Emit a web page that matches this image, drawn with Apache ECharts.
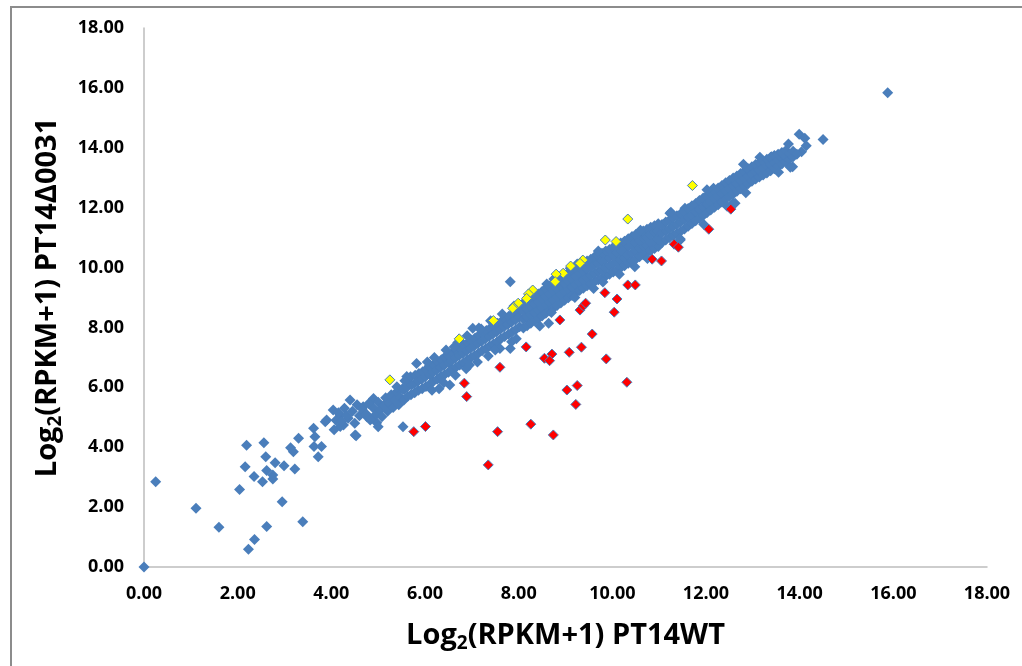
<!DOCTYPE html>
<html>
<head>
<meta charset="utf-8">
<script src="https://cdn.jsdelivr.net/npm/echarts@6/dist/echarts.min.js"></script>
<style>
  html, body { margin: 0; padding: 0; background: #ffffff; }
  #chart { width: 1022px; height: 666px; }
</style>
</head>
<body>
<div id="chart"></div>
<script>
// Axis ticks (shared by both axes)
const tickMin = 0;
const tickMax = 18;
const tickStep = 2;

// Genes with unchanged expression: [log2(RPKM+1) WT, log2(RPKM+1) Δ0031]
const unchangedGenes = [
  [0.00,0.00],[0.25,2.85],[1.11,1.96],[1.60,1.33],[2.04,2.59],[2.19,4.07],[2.16,3.35],
  [2.23,0.59],[2.36,0.92],[2.35,3.02],[2.56,4.15],[2.60,3.68],[2.53,2.85],[2.62,1.35],
  [2.62,3.22],[2.75,3.07],[2.75,2.94],[2.80,3.48],[2.95,2.18],[2.99,3.38],[3.13,3.98],
  [3.19,3.85],[3.22,3.27],[3.30,4.30],[3.39,1.51],[3.62,4.63],[3.65,4.35],[3.63,4.02],
  [3.72,3.68],[3.79,4.02],[3.87,4.85],[3.90,4.91],[4.04,5.24],[4.06,4.58],[4.19,5.08],
  [4.19,4.69],[4.40,5.58],[4.36,4.97],[4.53,4.38],[4.51,4.41],[4.26,4.74],[4.68,5.35],
  [4.76,5.02],[4.90,5.63],[4.97,4.82],[4.83,4.91],[5.00,4.68],[5.53,4.68],
  [4.10,4.90],[4.15,5.15],[4.22,4.85],[4.28,5.30],[4.33,5.05],[4.45,5.20],[4.50,4.80],
  [4.55,5.42],[4.60,5.05],[4.66,5.28],[4.74,5.12],[4.80,5.46],[4.85,4.95],[4.90,5.30],
  [4.96,5.10],[5.00,5.50],[5.04,5.25],[5.08,5.02],[5.12,5.40],[5.16,5.65],[5.20,5.20],
  [5.24,5.48],[5.28,5.75],[5.32,5.33],[5.36,5.58],[5.40,5.85],[5.40,6.02],[5.44,5.42],
  [5.48,5.66],[5.52,5.95],[5.61,6.36],[5.82,6.80],[6.53,6.08],[7.02,7.97],[7.82,9.53],
  [7.82,7.30],[8.64,8.14],[10.48,10.03],[12.58,12.16],[12.62,12.15],[11.45,10.92],
  [12.16,12.65],[11.23,11.81],[11.55,11.98],[13.40,13.70],[13.76,14.13],[13.99,14.45],
  [14.11,14.32],[14.14,14.07],[14.04,13.87],[13.85,13.37],[13.83,13.79],[14.50,14.28],
  [15.88,15.84],
  [5.55,5.58],[5.55,5.93],[5.57,6.22],[5.63,5.70],[5.62,6.01],[5.64,6.28],
  [5.70,5.75],[5.71,6.08],[5.69,6.35],[5.78,5.82],[5.77,6.12],[5.79,6.40],
  [5.86,5.90],[5.85,6.20],[5.87,6.46],[5.94,5.95],[5.93,6.27],[5.95,6.52],
  [6.02,6.03],[6.01,6.35],[6.03,6.60],[6.10,6.10],[6.11,6.42],[6.09,6.70],
  [6.18,6.20],[6.17,6.50],[6.19,6.76],[6.26,6.27],[6.25,6.58],[6.27,6.85],
  [6.34,6.36],[6.33,6.66],[6.35,6.92],[6.42,6.43],[6.41,6.74],[6.43,7.02],
  [6.50,6.50],[6.51,6.82],[6.49,7.08],[6.58,6.60],[6.57,6.90],[6.59,7.16],
  [6.66,6.67],[6.65,6.98],[6.67,7.25],[6.74,6.75],[6.73,7.06],[6.75,7.32],
  [6.82,6.82],[6.81,7.14],[6.83,7.42],[6.90,6.91],[6.89,7.22],[6.91,7.48],
  [6.98,6.99],[6.97,7.30],[6.99,7.57],[7.06,7.06],[7.05,7.38],[7.07,7.65],
  [7.14,7.14],[7.13,7.46],[7.15,7.74],[7.22,7.22],[7.21,7.54],[7.23,7.80],
  [7.30,7.30],[7.29,7.62],[7.31,7.90],[7.38,7.38],[7.37,7.70],[7.39,7.97],
  [7.46,7.45],[7.45,7.78],[7.47,8.05],[7.54,7.52],[7.53,7.86],[7.55,8.14],
  [7.62,7.62],[7.61,7.94],[7.63,8.20],[7.70,7.70],[7.69,8.02],[7.71,8.30],
  [7.78,7.77],[7.77,8.10],[7.79,8.37],[7.86,7.85],[7.85,8.18],[7.87,8.46],
  [7.94,7.93],[7.93,8.26],[7.95,8.52],[8.02,8.02],[8.01,8.34],[8.03,8.60],
  [6.20,7.00],[6.45,7.25],[6.70,7.50],[6.90,7.72],[7.15,7.98],[7.40,8.22],[7.65,8.45],[7.90,8.72],
  [6.15,5.90],[6.40,6.15],[6.65,6.40],[6.88,6.62],[7.12,6.85],[7.35,7.05],[7.60,7.30],[7.85,7.52],
  [8.10,7.98],[8.10,8.27],[8.10,8.54],[8.10,8.82],[8.18,8.06],[8.18,8.35],[8.18,8.62],[8.18,8.88],
  [8.26,8.14],[8.26,8.43],[8.26,8.70],[8.26,8.96],[8.34,8.22],[8.34,8.50],[8.34,8.78],[8.34,9.05],
  [8.42,8.30],[8.42,8.58],[8.42,8.86],[8.42,9.12],[8.50,8.38],[8.50,8.66],[8.50,8.94],[8.50,9.20],
  [8.58,8.47],[8.58,8.75],[8.58,9.03],[8.58,9.30],[8.66,8.56],[8.66,8.84],[8.66,9.12],[8.66,9.38],
  [8.74,8.64],[8.74,8.92],[8.74,9.20],[8.74,9.46],[8.82,8.73],[8.82,9.01],[8.82,9.29],[8.82,9.56],
  [8.90,8.82],[8.90,9.10],[8.90,9.38],[8.90,9.64],[8.98,8.91],[8.98,9.19],[8.98,9.47],[8.98,9.74],
  [9.06,8.99],[9.06,9.27],[9.06,9.55],[9.06,9.82],[9.14,9.07],[9.14,9.35],[9.14,9.63],[9.14,9.90],
  [9.22,9.15],[9.22,9.43],[9.22,9.71],[9.22,9.98],[9.30,9.23],[9.30,9.51],[9.30,9.79],[9.30,10.06],
  [9.38,9.31],[9.38,9.59],[9.38,9.87],[9.38,10.14],[9.46,9.39],[9.46,9.67],[9.46,9.95],[9.46,10.22],
  [9.54,9.46],[9.54,9.74],[9.54,10.02],[9.54,10.28],[9.62,9.53],[9.62,9.81],[9.62,10.09],[9.62,10.36],
  [9.70,9.59],[9.70,9.87],[9.70,10.15],[9.70,10.42],[9.78,9.65],[9.78,9.93],[9.78,10.21],[9.78,10.48],
  [9.86,9.72],[9.86,10.00],[9.86,10.28],[9.86,10.55],[9.94,9.78],[9.94,10.06],[9.94,10.34],[9.94,10.60],
  [10.02,9.85],[10.02,10.13],[10.02,10.41],[10.02,10.68],[10.10,9.92],[10.10,10.20],[10.10,10.48],[10.10,10.74],
  [10.18,9.99],[10.18,10.27],[10.18,10.55],[10.18,10.82],[10.26,10.06],[10.26,10.34],[10.26,10.62],[10.26,10.88],
  [10.34,10.14],[10.34,10.42],[10.34,10.70],[10.34,10.96],[10.42,10.21],[10.42,10.49],[10.42,10.77],[10.42,11.04],
  [10.50,10.28],[10.50,10.56],[10.50,10.84],[10.50,11.10],[10.58,10.36],[10.58,10.63],[10.58,10.90],[10.58,11.15],
  [10.66,10.43],[10.66,10.70],[10.66,10.97],[10.66,11.22],[10.74,10.50],[10.74,10.76],[10.74,11.03],[10.74,11.28],
  [10.82,10.57],[10.82,10.83],[10.82,11.10],[10.82,11.35],[10.90,10.64],[10.90,10.89],[10.90,11.16],[10.90,11.40],
  [10.98,10.70],[10.98,10.95],[10.98,11.22],[10.98,11.46],
  [8.75,9.62],[9.25,10.12],[9.70,10.55],[8.70,8.50],[9.20,9.00],[9.80,9.52],
  [11.06,10.84],[11.06,11.15],[11.06,11.44],[11.14,10.92],[11.14,11.22],[11.14,11.52],
  [11.22,11.00],[11.22,11.30],[11.22,11.58],[11.30,11.07],[11.30,11.37],[11.30,11.66],
  [11.38,11.14],[11.38,11.45],[11.38,11.73],[11.46,11.21],[11.46,11.52],[11.46,11.80],
  [11.54,11.29],[11.54,11.60],[11.54,11.88],[11.62,11.38],[11.62,11.68],[11.62,11.97],
  [11.70,11.47],[11.70,11.76],[11.70,12.06],[11.78,11.56],[11.78,11.86],[11.78,12.14],
  [11.86,11.65],[11.86,11.94],[11.86,12.24],[11.94,11.74],[11.94,12.03],[11.94,12.32],
  [12.02,11.83],[12.02,12.12],[12.02,12.40],[12.10,11.92],[12.10,12.21],[12.10,12.49],
  [12.18,12.01],[12.18,12.30],[12.18,12.58],[12.26,12.10],[12.26,12.39],[12.26,12.66],
  [12.34,12.19],[12.34,12.47],[12.34,12.74],[12.42,12.28],[12.42,12.56],[12.42,12.83],
  [12.50,12.38],[12.50,12.65],[12.50,12.91],[12.58,12.46],[12.58,12.73],[12.58,12.99],
  [12.66,12.55],[12.66,12.81],[12.66,13.06],[12.74,12.63],[12.74,12.89],[12.74,13.14],
  [12.82,12.71],[12.82,12.97],[12.82,13.22],[12.90,12.80],[12.90,13.05],[12.90,13.30],
  [12.98,12.88],[12.98,13.13],[12.98,13.37],[13.06,12.96],[13.06,13.20],[13.06,13.44],
  [13.14,13.02],[13.14,13.26],[13.14,13.50],[13.22,13.09],[13.22,13.32],[13.22,13.56],
  [13.30,13.16],[13.30,13.39],[13.30,13.62],[13.38,13.23],[13.38,13.45],[13.38,13.68],
  [13.46,13.30],[13.46,13.52],[13.46,13.74],[13.54,13.38],[13.54,13.58],[13.54,13.78],
  [13.62,13.46],[13.62,13.65],[13.62,13.84],[13.70,13.53],[13.70,13.72],[13.70,13.90],
  [13.78,13.62],[13.78,13.80],[13.86,13.70],[13.86,13.88],[13.94,13.78],
  [6.05,6.85],[6.62,7.35],[7.20,7.95],[8.60,9.45],[9.10,9.98],[10.60,11.25],[11.25,11.85],
  [12.02,12.60],[12.80,13.45],[13.15,13.68],
  [6.30,5.95],[6.95,6.75],[7.50,7.25],[7.95,7.62],[8.45,8.05],[9.60,9.30],[10.15,9.78],
  [10.75,10.30],[11.45,10.95],[11.95,11.45],[12.45,12.05],[12.85,12.50],[13.55,13.18],[13.80,13.35]
];

// Genes higher in Δ0031
const upGenes = [
  [11.71,12.74],[10.33,11.62],[9.85,10.92],[10.08,10.87],[9.37,10.25],[9.31,10.14],
  [9.11,10.05],[8.95,9.81],[8.80,9.78],[8.78,9.53],[8.30,9.25],[8.21,9.12],[8.17,8.97],
  [7.99,8.81],[7.89,8.67],[7.87,8.64],[7.46,8.23],[6.73,7.62],[5.25,6.25]
];

// Genes lower in Δ0031
const downGenes = [
  [12.53,11.95],[12.06,11.28],[11.32,10.78],[11.41,10.68],[10.85,10.28],[11.05,10.22],
  [10.33,9.42],[10.49,9.42],[9.84,9.16],[10.10,8.95],[10.04,8.51],[9.31,8.58],[9.38,8.72],
  [9.43,8.81],[8.88,8.25],[9.57,7.78],[8.16,7.35],[9.08,7.17],[9.34,7.34],[8.55,6.97],
  [8.71,7.11],[8.66,6.89],[9.87,6.95],[7.60,6.67],[6.84,6.14],[6.89,5.69],[9.03,5.91],
  [9.25,6.06],[10.31,6.17],[9.22,5.43],[7.55,4.52],[8.26,4.77],[8.74,4.41],[7.35,3.41],
  [5.76,4.52],[6.01,4.69]
];

const blue = '#4a7ebb';
const tickFont = { fontFamily: 'Open Sans', fontWeight: 'bold', fontSize: 18, color: '#000' };
const titleRich = {
  a: { fontFamily: 'Open Sans', fontWeight: 'bold', fontSize: 29, color: '#000', lineHeight: 32, verticalAlign: 'top' },
  s: { fontFamily: 'Open Sans', fontWeight: 'bold', fontSize: 19, color: '#000', verticalAlign: 'bottom' }
};

function valueAxis(name, gap, labelMargin) {
  return {
    type: 'value',
    min: tickMin,
    max: tickMax,
    interval: tickStep,
    name: name,
    nameLocation: 'middle',
    nameGap: gap,
    nameTextStyle: { rich: titleRich },
    axisLine: { show: true, lineStyle: { color: '#bdbdbd', width: 1.5 } },
    axisTick: { show: false },
    splitLine: { show: false },
    axisLabel: Object.assign({ margin: labelMargin, formatter: v => v.toFixed(2) }, tickFont)
  };
}

const chart = echarts.init(document.getElementById('chart'), null, { renderer: 'canvas' });
chart.setOption({
  animation: false,
  backgroundColor: '#ffffff',
  grid: { left: 144, right: 35, top: 28, bottom: 99, containLabel: false },
  xAxis: valueAxis('{a|Log}{s|2}{a|(RPKM+1) PT14WT}', 54, 18),
  yAxis: valueAxis('{a|Log}{s|2}{a|(RPKM+1) PT14Δ0031}', 79, 20),
  graphic: [{
    type: 'rect',
    silent: true,
    shape: { x: 11, y: 7, width: 1100, height: 700 },
    style: { fill: 'none', stroke: '#8c8c8c', lineWidth: 2 }
  }],
  series: [
    {
      type: 'scatter',
      data: unchangedGenes,
      symbol: 'diamond',
      symbolSize: 11,
      clip: false,
      itemStyle: { color: blue, opacity: 1 },
      z: 2
    },
    {
      type: 'scatter',
      data: upGenes,
      symbol: 'diamond',
      symbolSize: 10,
      clip: false,
      itemStyle: { color: '#ffff00', borderColor: blue, borderWidth: 1, opacity: 1 },
      z: 3
    },
    {
      type: 'scatter',
      data: downGenes,
      symbol: 'diamond',
      symbolSize: 10,
      clip: false,
      itemStyle: { color: '#ff0000', borderColor: blue, borderWidth: 1, opacity: 1 },
      z: 3
    }
  ]
});
</script>
</body>
</html>
